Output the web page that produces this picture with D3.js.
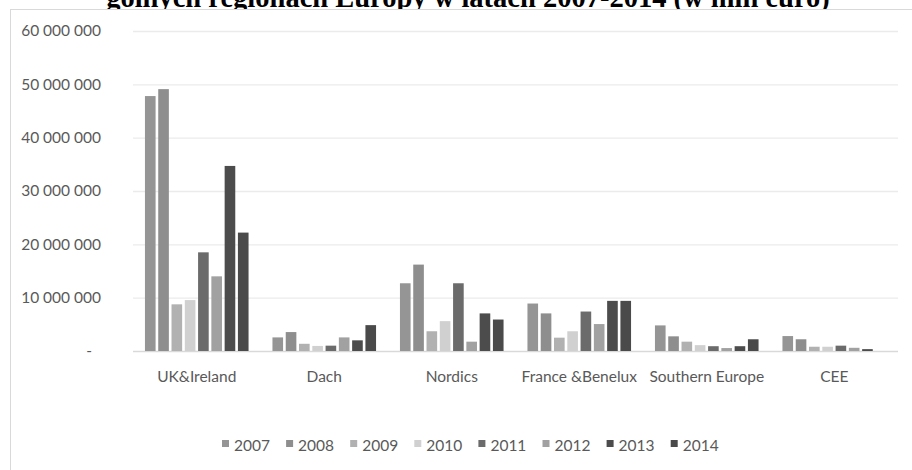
<!DOCTYPE html>
<html>
<head>
<meta charset="utf-8">
<script src="https://cdn.jsdelivr.net/npm/d3@7/dist/d3.min.js"></script>
<style>
  html, body { margin: 0; padding: 0; background: #fff; }
  svg { display: block; }
  .lbl { font-family: Lato, "Open Sans", sans-serif; font-size: 15.5px; fill: #595959; }
</style>
</head>
<body>
<svg id="chart" width="912" height="470"></svg>
<script>
// Regions and years
const regions = ["UK&Ireland", "Dach", "Nordics", "France &Benelux", "Southern Europe", "CEE"];
const years = ["2007", "2008", "2009", "2010", "2011", "2012", "2013", "2014"];

// Values per year, one entry per region (EUR)
const v2007 = [47800000, 2550000, 12700000, 8900000, 4800000, 2800000];
const v2008 = [49100000, 3550000, 16200000, 7050000, 2750000, 2200000];
const v2009 = [8750000, 1350000, 3700000, 2500000, 1750000, 800000];
const v2010 = [9550000, 950000, 5600000, 3700000, 1100000, 800000];
const v2011 = [18500000, 1000000, 12700000, 7400000, 900000, 1000000];
const v2012 = [14000000, 2550000, 1750000, 5050000, 550000, 600000];
const v2013 = [34700000, 2000000, 7050000, 9400000, 900000, 350000];
const v2014 = [22200000, 4850000, 5900000, 9400000, 2200000, 0];

const yTicks = [0, 10000000, 20000000, 30000000, 40000000, 50000000, 60000000];
const colors = ["#959595", "#8e8e8e", "#b1b1b1", "#d0d0d0", "#6b6b6b", "#a1a1a1", "#4c4c4c", "#4a4a4a"];

const title = "gólnych regionach Europy w latach 2007-2014 (w mln euro)";

const seriesValues = [v2007, v2008, v2009, v2010, v2011, v2012, v2013, v2014];
const table = regions.map((r, i) => ({
  region: r,
  values: years.map((yr, k) => ({ year: yr, value: seriesValues[k][i] }))
}));

const svg = d3.select("#chart");

// Title (runs off the top edge of the page)
svg.append("text")
  .attr("x", 468)
  .attr("y", 7)
  .attr("text-anchor", "middle")
  .style("font-family", "'Liberation Serif', 'Times New Roman', serif")
  .style("font-weight", "bold")
  .style("font-size", "28.5px")
  .style("fill", "#000")
  .text(title);

// Chart area frame
svg.append("rect")
  .attr("x", 10.5).attr("y", 9.5)
  .attr("width", 1000).attr("height", 1000)
  .attr("fill", "#fff")
  .attr("stroke", "#d9d9d9")
  .attr("stroke-width", 1);

const plot = { left: 133, right: 898, top: 31, bottom: 351 };

const x0 = d3.scaleBand().domain(regions).range([plot.left, plot.right]).padding(0);
const x1 = d3.scaleBand().domain(years).range([0, x0.bandwidth()])
  .paddingInner(0.2).paddingOuter(0.9);
const y = d3.scaleLinear().domain([0, 60000000]).range([plot.bottom, plot.top]);

const fmt = d3.formatLocale({ decimal: ",", thousands: " ", grouping: [3], currency: ["", ""] }).format(",");

// Gridlines
const grid = svg.append("g")
  .attr("transform", `translate(${plot.left},0)`)
  .call(d3.axisLeft(y).tickValues(yTicks).tickSize(-(plot.right - plot.left)).tickFormat(""));
grid.select(".domain").remove();
grid.selectAll(".tick line")
  .attr("stroke", d => d === 0 ? "#d9d9d9" : "#ebebeb")
  .attr("stroke-width", 1.4);

// Y axis labels
const yAxis = svg.append("g")
  .attr("transform", `translate(${plot.left},0)`)
  .call(d3.axisLeft(y).tickValues(yTicks).tickSize(0).tickPadding(32)
    .tickFormat(d => d === 0 ? "-" : fmt(d)));
yAxis.select(".domain").remove();
yAxis.attr("font-family", null).attr("font-size", null);
yAxis.selectAll(".tick text")
  .attr("class", "lbl")
  .attr("fill", null)
  .attr("x", d => d === 0 ? -41 : -32);

// Bars
const groups = svg.append("g").selectAll("g")
  .data(table)
  .join("g")
  .attr("transform", d => `translate(${x0(d.region)},0)`);

groups.selectAll("rect")
  .data(d => d.values)
  .join("rect")
  .attr("x", d => x1(d.year))
  .attr("y", d => y(d.value))
  .attr("width", x1.bandwidth())
  .attr("height", d => y(0) - y(d.value))
  .attr("fill", (d, i) => colors[i]);

// Category labels
const xAxis = svg.append("g")
  .attr("transform", `translate(0,${plot.bottom})`)
  .call(d3.axisBottom(x0).tickSize(0).tickPadding(0));
xAxis.select(".domain").remove();
xAxis.attr("font-family", null).attr("font-size", null);
xAxis.selectAll(".tick text")
  .attr("class", "lbl")
  .attr("fill", null)
  .attr("dy", null)
  .attr("y", 31);

// Legend
const legend = svg.append("g").attr("transform", "translate(222,0)");
const item = legend.selectAll("g")
  .data(years)
  .join("g")
  .attr("transform", (d, i) => `translate(${i * 64.1},0)`);
item.append("rect")
  .attr("x", 0).attr("y", 440)
  .attr("width", 7).attr("height", 7)
  .attr("fill", (d, i) => colors[i]);
item.append("text")
  .attr("class", "lbl")
  .attr("x", 12).attr("y", 451)
  .text(d => d);
</script>
</body>
</html>
